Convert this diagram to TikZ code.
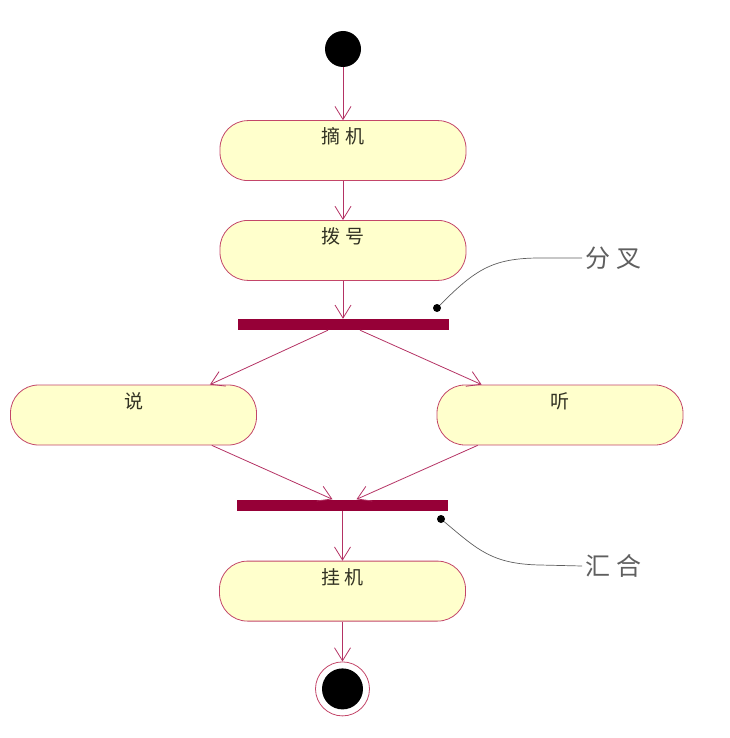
\documentclass[tikz,border=0pt]{standalone}
\usepackage{fontspec}
\setmainfont{Noto Sans CJK SC}
\usetikzlibrary{arrows.meta,positioning}
\definecolor{actfill}{RGB}{255,255,204}
\definecolor{actline}{RGB}{195,70,105}
\definecolor{flowline}{RGB}{180,50,100}
\definecolor{barfill}{RGB}{150,0,55}
\definecolor{acttext}{RGB}{50,50,35}
\definecolor{notegray}{RGB}{95,95,95}

\begin{document}
\begin{tikzpicture}[x=1pt,y=-1pt,>={Straight Barb[length=13pt,width=16pt]},
  act/.style={draw=actline,fill=actfill,rounded corners=28pt,minimum width=246pt,
    text height=20pt,text depth=34pt,inner ysep=3pt,line width=0.8pt,
    text=acttext,font=\fontsize{19}{19}\selectfont},
  bar/.style={fill=barfill,minimum width=211pt,minimum height=11pt,inner sep=0pt},
  flow/.style={->,draw=flowline,line width=0.8pt},
  dot/.style={circle,fill=black,minimum size=8pt,inner sep=0pt},
  note/.style={anchor=west,text=notegray,font=\fontsize{25}{25}\selectfont},
  noteline/.style={draw=notegray,line width=0.7pt}]
  \useasboundingbox (0,0) rectangle (729,738);

  % main flow
  \node[circle,fill=black,minimum size=36pt,inner sep=0pt] (start) at (343,49) {};
  \node[act,below=53pt of start] (pickup) {摘 机};
  \node[act,below=39pt of pickup] (dial) {拨 号};
  \node[bar,below=38pt of dial] (fork) {};
  \node[act] (say) at (133.5,415) {说};
  \node[act] (listen) at (560,415) {听};
  \node[bar] (join) at (342.5,505) {};
  \node[act,below=50pt of join] (hangup) {挂 机};
  \node[circle,draw=actline,line width=0.8pt,minimum size=54pt,inner sep=0pt,below=40pt of hangup] (end) {};
  \node[circle,fill=black,minimum size=41pt,inner sep=0pt] (endcore) at (end) {};

  \draw[flow] (start) -- (pickup);
  \draw[flow] (pickup) -- (dial);
  \draw[flow] (dial) -- (fork);
  \draw[flow] ([xshift=-15pt]fork.south) -- ([xshift=-47pt]say.north east);
  \draw[flow] ([xshift=17pt]fork.south) -- ([xshift=45pt]listen.north west);
  \draw[flow] ([xshift=-45pt]say.south east) -- ([xshift=-10pt]join.north);
  \draw[flow] ([xshift=41pt]listen.south west) -- ([xshift=14pt]join.north);
  \draw[flow] (join) -- (hangup);
  \draw[flow] (hangup) -- (end);

  % notes
  \node[dot] (forkdot) at (437,308) {};
  \node[note] (forknote) at (582,258) {分 叉};
  \draw[noteline] (forkdot) .. controls (475,270) and (492,258) .. (540,258) -- (forknote.west);
  \node[dot] (joindot) at (441,519) {};
  \node[note] (joinnote) at (582,566) {汇 合};
  \draw[noteline] (joindot) .. controls (478,550) and (492,564) .. (540,565) -- (joinnote.west);
\end{tikzpicture}
\end{document}
